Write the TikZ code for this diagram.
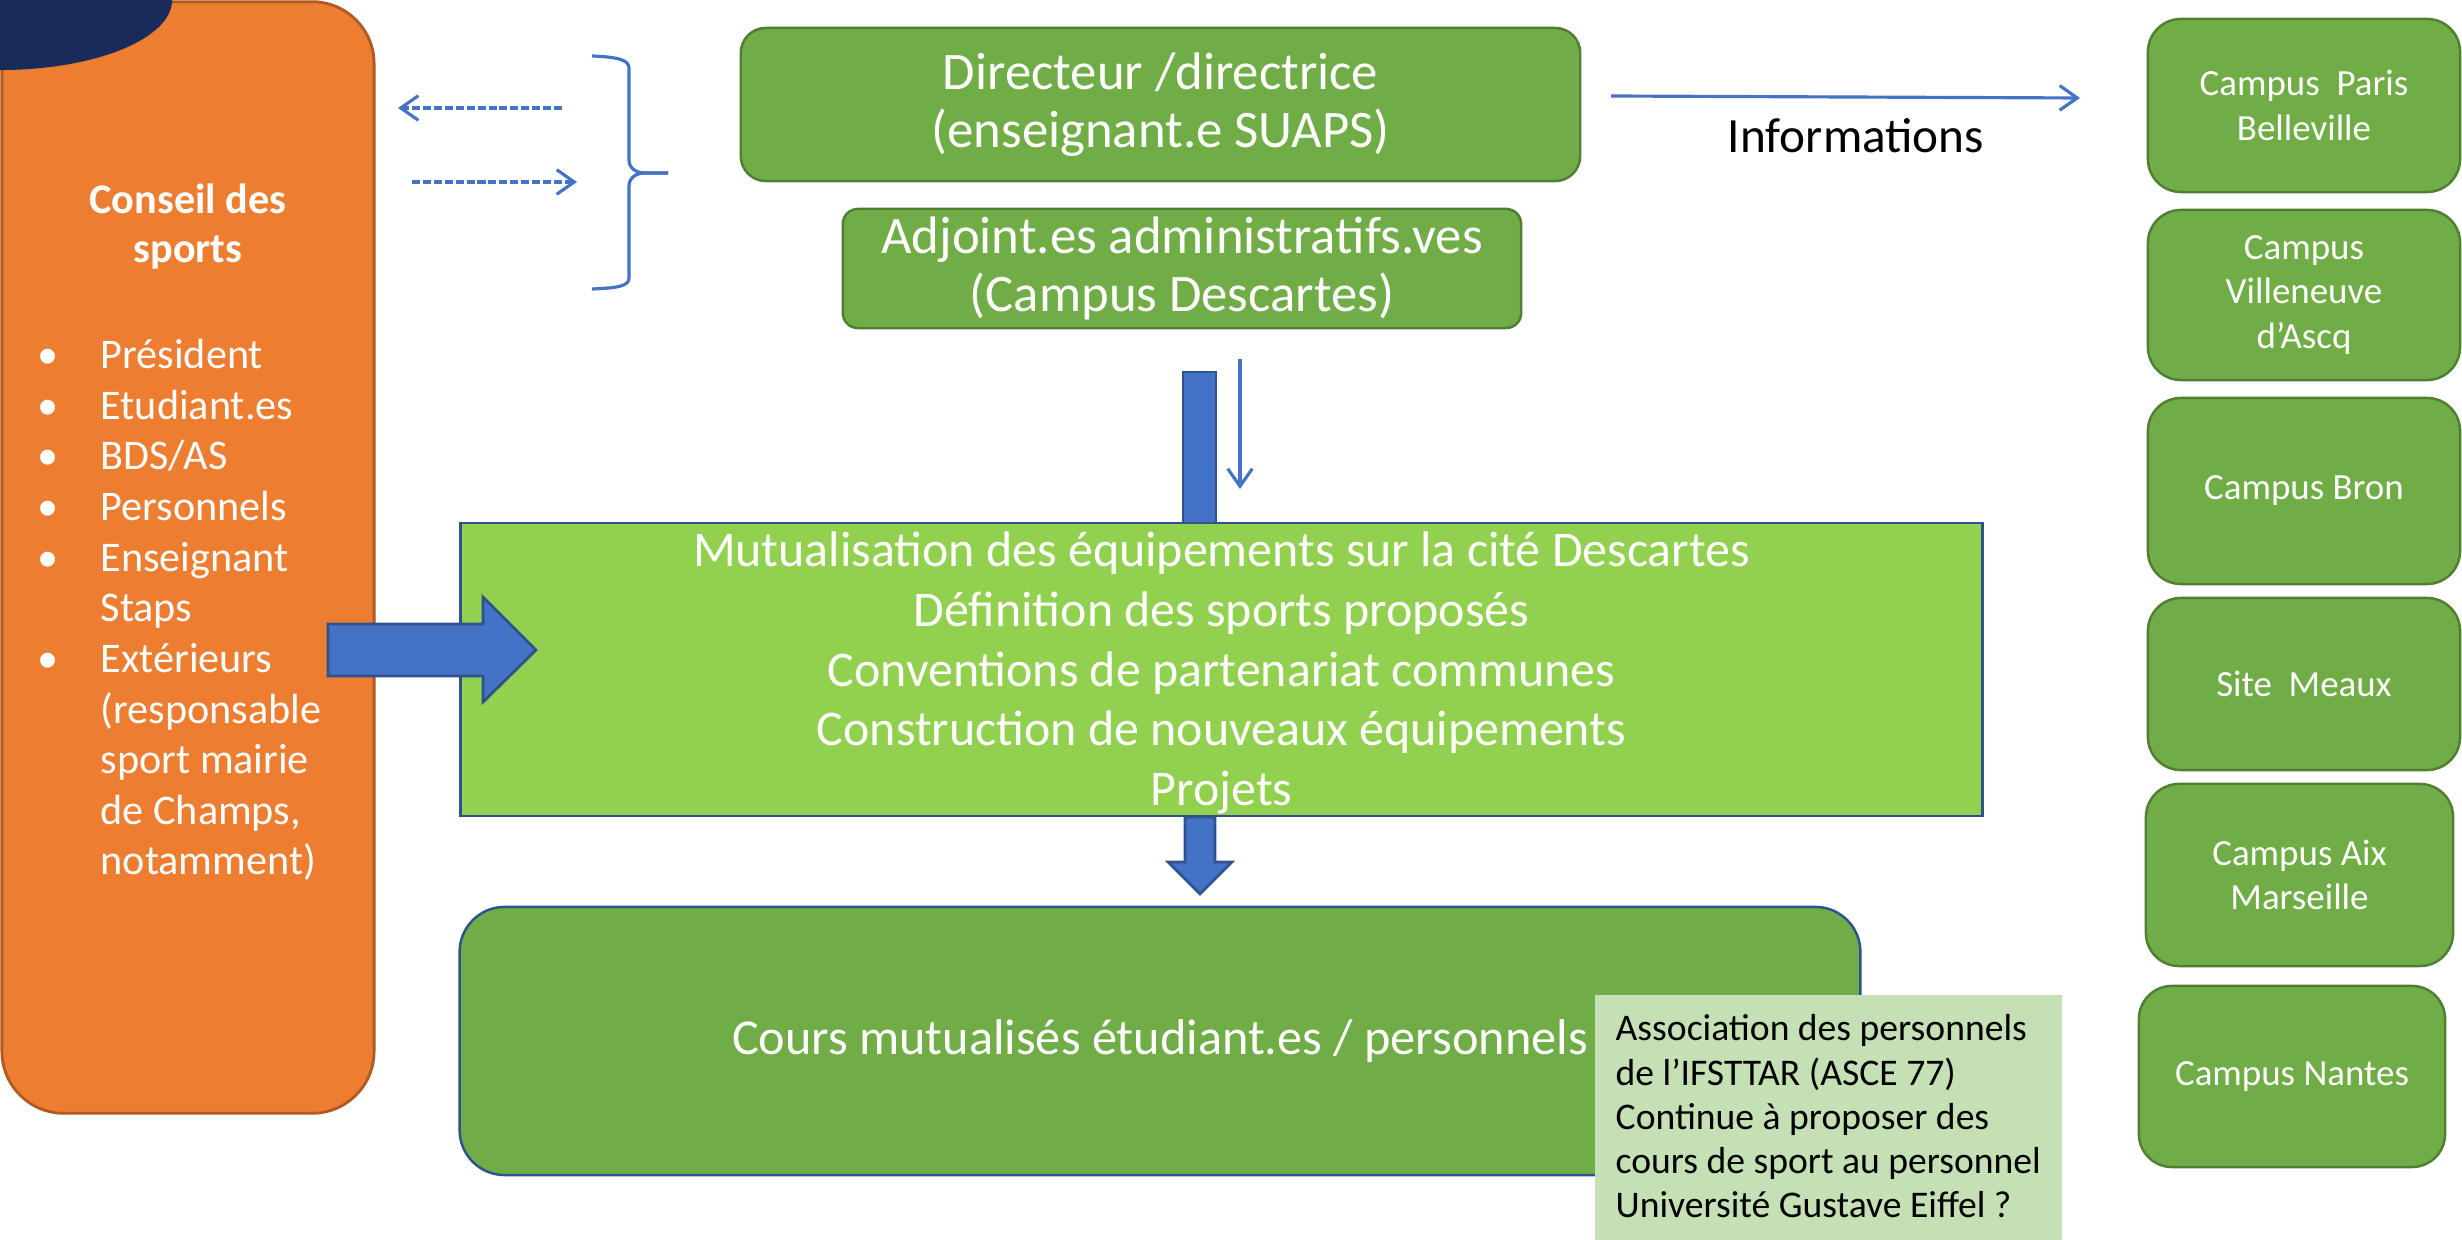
\documentclass[tikz,border=0pt]{standalone}
\usepackage{fontspec}
\setmainfont{Carlito}
\usetikzlibrary{arrows.meta}
\definecolor{orangeF}{HTML}{ED7D31}
\definecolor{orangeD}{HTML}{AE5A21}
\definecolor{greenF}{HTML}{70AD47}
\definecolor{greenD}{HTML}{507E32}
\definecolor{lgreen}{HTML}{92D050}
\definecolor{blueF}{HTML}{4472C4}
\definecolor{blueD}{HTML}{2F528F}
\definecolor{noteF}{HTML}{C5E0B4}
\definecolor{navy}{HTML}{172C5B}
\begin{document}
\begin{tikzpicture}[x=0.01cm,y=-0.01cm,
  gbox/.style={draw=greenD, fill=greenF, line width=0.7pt, text=white, align=center, inner sep=0pt},
  bigtxt/.style={font=\fontsize{15}{16.5}\selectfont},
  campus/.style={gbox, rounded corners=0.33cm, font=\fontsize{10.5}{12.6}\selectfont},
  thinarrow/.style={draw=blueF, line width=0.9pt, -{Straight Barb[length=5pt,width=7pt]}},
  dasharrow/.style={thinarrow, dash pattern=on 2.3pt off 0.8pt},
  blockarrow/.style={fill=blueF, draw=blueD, line width=0.8pt, line join=miter}
]
\useasboundingbox (0,0) rectangle (2462,1240);

% Conseil des sports
\node[draw=orangeD, fill=orangeF, line width=0.8pt, rounded corners=0.62cm,
      minimum width=3.72cm, minimum height=11.11cm, inner sep=0pt] (conseil) at (188,557.5) {};
\fill[navy] (0,0) ellipse [x radius=1.72cm, y radius=0.70cm];
\node[text=white, font=\bfseries\fontsize{12}{14.2}\selectfont, align=center, anchor=base, inner sep=0pt] (ctitle) at (188,263) {Conseil des\\sports};
\node[text=white, font=\fontsize{12}{14.4}\selectfont, align=left, anchor=base west, inner sep=0pt] (clist) at (100,875)
 {\llap{•\hspace{12pt}}Président\\
  \llap{•\hspace{12pt}}Etudiant.es\\
  \llap{•\hspace{12pt}}BDS/AS\\
  \llap{•\hspace{12pt}}Personnels\\
  \llap{•\hspace{12pt}}Enseignant\\
  Staps\\
  \llap{•\hspace{12pt}}Extérieurs\\
  (responsable\\
  sport mairie\\
  de Champs,\\
  notamment)};

% dashed arrows and brace
\coordinate (dl1) at (562,108); \coordinate (dl2) at (398,108);
\coordinate (dr1) at (412,182); \coordinate (dr2) at (577,182);
\draw[dasharrow] (dl1) -- (dl2);
\draw[dasharrow] (dr1) -- (dr2);
\coordinate (btop) at (592,56); \coordinate (bmid) at (668,173); \coordinate (bbot) at (592,289);
\draw[blueF, line width=0.9pt] (btop) .. controls (618,57) and (629,60) .. (629,68) -- (629,160)
  .. controls (629,168) and (636,173) .. (645,173) -- (bmid);
\draw[blueF, line width=0.9pt] (bmid) -- (645,173) .. controls (636,173) and (629,178) .. (629,186)
  -- (629,278) .. controls (629,286) and (618,288) .. (bbot);

% director boxes
\node[gbox, bigtxt, rounded corners=0.25cm, minimum width=8.39cm, minimum height=1.53cm] (dir) at (1160.5,104.5)
  {Directeur /directrice\\(enseignant.e SUAPS)};
\node[gbox, bigtxt, rounded corners=0.15cm, minimum width=6.78cm, minimum height=1.19cm] (adj) at (1182,268.5)
  {Adjoint.es administratifs.ves\\(Campus Descartes)};

% bar and thin arrow
\fill[blueF, draw=blueD, line width=0.8pt] (1183,372) rectangle (1216,523);
\coordinate (ta1) at (1240,359); \coordinate (ta2) at (1240,489);
\draw[thinarrow] (ta1) -- (ta2);

% main light green box
\node[draw=blueD, fill=lgreen, line width=0.7pt, inner sep=0pt,
      minimum width=15.21cm, minimum height=2.93cm] (mutu) at (1221.5,669.5) {};
\node[text=white, align=center, inner sep=0pt, font=\fontsize{14.2}{17}\selectfont] (mututxt) at (1221.5,673)
  {Mutualisation des équipements sur la cité Descartes\\
   Définition des sports proposés\\
   Conventions de partenariat communes\\
   Construction de nouveaux équipements\\
   Projets};

% big right arrow
\draw[blockarrow] (328,624) -- (483,624) -- (483,597) -- (536,650) -- (483,702) -- (483,676) -- (328,676) -- cycle;

% cours box
\node[draw=blueD, fill=greenF, line width=0.7pt, text=white, align=center, inner sep=0pt, rounded corners=0.45cm,
      font=\fontsize{14.3}{16.5}\selectfont, minimum width=14.00cm, minimum height=2.68cm] (cours) at (1160,1041)
  {Cours mutualisés étudiant.es / personnels};

% down arrow
\draw[blockarrow] (1185,817) -- (1215,817) -- (1215,862) -- (1232,862) -- (1200,894) -- (1168,862) -- (1185,862) -- cycle;

% note box
\node[fill=noteF, minimum width=4.67cm, minimum height=2.55cm, inner sep=0pt] (note) at (1828.5,1122.5) {};
\node[text=black, align=left, anchor=base west, inner sep=0pt, font=\fontsize{10.7}{12.6}\selectfont] (notetxt) at (1615,1218)
  {Association des personnels\\
   de l’IFSTTAR (ASCE 77)\\
   Continue à proposer des\\
   cours de sport au personnel\\
   Université Gustave Eiffel ?};

% information arrow
\coordinate (ia1) at (1611,96); \coordinate (ia2) at (2080,98);
\draw[thinarrow] (ia1) -- (ia2);
\node[text=black, font=\fontsize{14}{16}\selectfont, anchor=base] (info) at (1856,153) {Informations};

% campus boxes
\node[campus, minimum width=3.12cm, minimum height=1.73cm] (c1) at (2304,105.5) {Campus\ \ Paris\\Belleville};
\node[campus, minimum width=3.12cm, minimum height=1.70cm] (c2) at (2304,295) {Campus\\Villeneuve\\d’Ascq};
\node[campus, minimum width=3.12cm, minimum height=1.86cm] (c3) at (2304,491) {Campus Bron};
\node[campus, minimum width=3.12cm, minimum height=1.72cm] (c4) at (2304,684) {Site\ \ Meaux};
\node[campus, minimum width=3.07cm, minimum height=1.82cm] (c5) at (2299.5,875) {Campus Aix\\Marseille};
\node[campus, minimum width=3.06cm, minimum height=1.81cm] (c6) at (2292,1076.5) {Campus Nantes};
\end{tikzpicture}
\end{document}
